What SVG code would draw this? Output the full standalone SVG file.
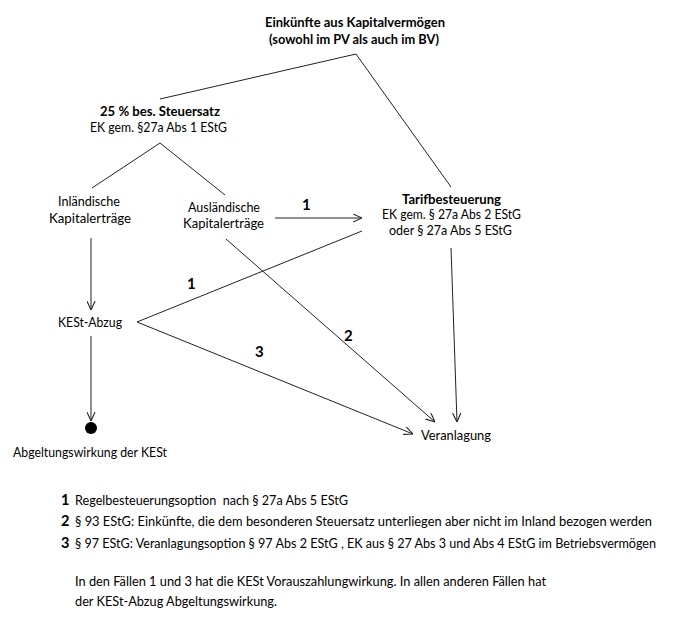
<svg xmlns="http://www.w3.org/2000/svg" width="687" height="625" viewBox="0 0 687 625">
<defs>
<marker id="arr" viewBox="0 0 10 10" refX="10" refY="5" markerWidth="9" markerHeight="9" markerUnits="userSpaceOnUse" orient="auto">
<path d="M0,0.5 L10,5 L0,9.5" fill="none" stroke="#222" stroke-width="1.2"/>
</marker>
<style>
text{font-family:Lato,"Open Sans","Liberation Sans",sans-serif;fill:#000;}
.t{font-size:13.5px;}
.b{font-size:13.5px;font-weight:bold;}
.n{font-size:15px;font-weight:bold;}
.l{font-size:13px;}
.ln{font-size:14.5px;font-weight:bold;}
.c{fill:none;stroke:#222;stroke-width:1;}
.a{fill:none;stroke:#222;stroke-width:1;marker-end:url(#arr);}
</style>
</defs>
<rect width="687" height="625" fill="#fff"/>
<g id="connectors">
<polyline class="c" points="160,99 356,54 451,187"/>
<polyline class="c" points="92,188 160,143 225,195"/>
<line class="a" x1="91" y1="238" x2="91" y2="310"/>
<line class="a" x1="91" y1="336" x2="91" y2="421"/>
<line class="a" x1="275" y1="218" x2="362" y2="218"/>
<polyline class="a" points="362,231 137,322 413,434"/>
<line class="a" x1="226" y1="239" x2="435" y2="422"/>
<line class="a" x1="451" y1="248" x2="457" y2="422"/>
<text class="n" x="302" y="210" textLength="7">1</text>
<text class="n" x="187" y="289" textLength="7">1</text>
<text class="n" x="344" y="341" textLength="8">2</text>
<text class="n" x="255" y="357" textLength="8">3</text>
</g>
<g id="n-einkuenfte">
<text class="b" x="265" y="27" textLength="180" lengthAdjust="spacingAndGlyphs">Einkünfte aus Kapitalvermögen</text>
<text class="b" x="269" y="44" textLength="170" lengthAdjust="spacingAndGlyphs">(sowohl im PV als auch im BV)</text>
</g>
<g id="n-sondersatz">
<text class="b" x="100" y="116" textLength="120" lengthAdjust="spacingAndGlyphs">25 % bes. Steuersatz</text>
<text class="t" x="90" y="132" textLength="137" lengthAdjust="spacingAndGlyphs">EK gem. §27a Abs 1 EStG</text>
</g>
<g id="n-inland">
<text class="t" x="58" y="206" textLength="62" lengthAdjust="spacingAndGlyphs">Inländische</text>
<text class="t" x="49" y="223" textLength="82" lengthAdjust="spacingAndGlyphs">Kapitalerträge</text>
</g>
<g id="n-ausland">
<text class="t" x="188" y="212" textLength="72" lengthAdjust="spacingAndGlyphs">Ausländische</text>
<text class="t" x="183" y="228" textLength="81" lengthAdjust="spacingAndGlyphs">Kapitalerträge</text>
</g>
<g id="n-tarif">
<text class="b" x="402" y="204" textLength="99" lengthAdjust="spacingAndGlyphs">Tarifbesteuerung</text>
<text class="t" x="382" y="219" textLength="139" lengthAdjust="spacingAndGlyphs">EK gem. § 27a Abs 2 EStG</text>
<text class="t" x="389" y="235" textLength="123" lengthAdjust="spacingAndGlyphs">oder § 27a Abs 5 EStG</text>
</g>
<g id="n-kest">
<text class="t" x="58" y="327" textLength="64" lengthAdjust="spacingAndGlyphs">KESt-Abzug</text>
</g>
<g id="n-abgeltung">
<circle cx="91" cy="428" r="6" fill="#000"/>
<text class="t" x="13" y="457" textLength="154" lengthAdjust="spacingAndGlyphs">Abgeltungswirkung der KESt</text>
</g>
<g id="n-veranlagung">
<text class="t" x="421" y="440" textLength="70" lengthAdjust="spacingAndGlyphs">Veranlagung</text>
</g>
<g id="legend">
<text class="ln" x="61" y="505">1</text>
<text class="l" x="75" y="505" textLength="273" lengthAdjust="spacingAndGlyphs">Regelbesteuerungsoption&#160; nach § 27a Abs 5 EStG</text>
<text class="ln" x="61" y="526">2</text>
<text class="l" x="75" y="526" textLength="577" lengthAdjust="spacingAndGlyphs">§ 93 EStG: Einkünfte, die dem besonderen Steuersatz unterliegen aber nicht im Inland bezogen werden</text>
<text class="ln" x="61" y="548">3</text>
<text class="l" x="75" y="548" textLength="581" lengthAdjust="spacingAndGlyphs">§ 97 EStG: Veranlagungsoption § 97 Abs 2 EStG , EK aus § 27 Abs 3 und Abs 4 EStG im Betriebsvermögen</text>
<text class="l" x="75" y="586" textLength="471" lengthAdjust="spacingAndGlyphs">In den Fällen 1 und 3 hat die KESt Vorauszahlungwirkung. In allen anderen Fällen hat</text>
<text class="l" x="75" y="606" textLength="202" lengthAdjust="spacingAndGlyphs">der KESt-Abzug Abgeltungswirkung.</text>
</g>
</svg>
